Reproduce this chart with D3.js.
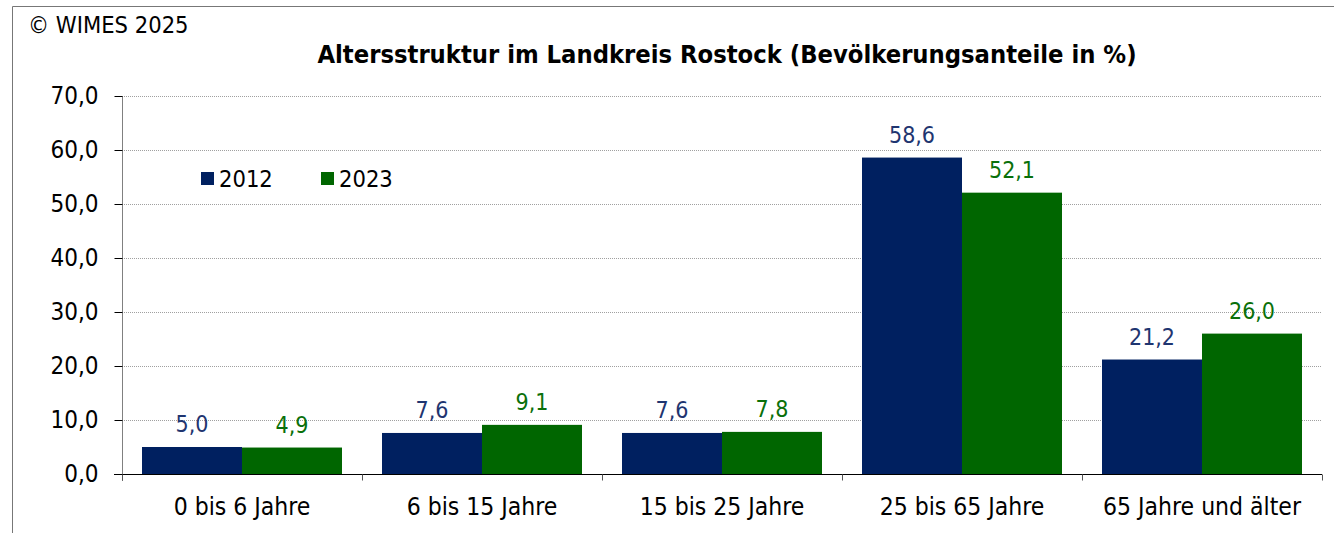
<!DOCTYPE html>
<html>
<head>
<meta charset="utf-8">
<script src="https://cdn.jsdelivr.net/npm/d3@7"></script>
<style>
  body { margin: 0; background: #fff; }
  svg { display: block; }
  text { font-family: "DejaVu Sans Condensed", "DejaVu Sans", sans-serif; font-stretch: condensed; }
</style>
</head>
<body>
<div id="chart"></div>
<script>
// data
var categories = ["0 bis 6 Jahre", "6 bis 15 Jahre", "15 bis 25 Jahre", "25 bis 65 Jahre", "65 Jahre und älter"];
var years = ["2012", "2023"];
var values2012 = [5.0, 7.6, 7.6, 58.6, 21.2];
var values2023 = [4.9, 9.1, 7.8, 52.1, 26.0];
var yTicks = [0, 10, 20, 30, 40, 50, 60, 70];

var colors = { "2012": "#002060", "2023": "#006600" };
var labelColors = { "2012": "#1f3570", "2023": "#0a700a" };

var W = 1334, H = 533;
var fmt = function(v) { return d3.format(".1f")(v).replace(".", ","); };

var svg = d3.select("#chart").append("svg")
    .attr("width", W)
    .attr("height", H);

// frame
svg.append("path")
    .attr("d", "M12.5," + H + "V6.5H" + W)
    .attr("fill", "none")
    .attr("stroke", "#777")
    .attr("stroke-width", 1);

svg.append("text")
    .attr("x", 28).attr("y", 33)
    .attr("font-size", 23.5)
    .attr("fill", "#000")
    .text("© WIMES 2025");

svg.append("text")
    .attr("x", 727).attr("y", 63)
    .attr("text-anchor", "middle")
    .attr("font-size", 25.3)
    .attr("font-weight", "bold")
    .text("Altersstruktur im Landkreis Rostock (Bevölkerungsanteile in %)");

// scales
var x0 = d3.scaleBand()
    .domain(categories)
    .range([122, 1322])
    .paddingInner(0)
    .paddingOuter(0);

var x1 = d3.scaleBand()
    .domain(years)
    .range([20, x0.bandwidth() - 20]);

var y = d3.scaleLinear()
    .domain([0, 70])
    .range([474, 96]);

// gridlines
svg.append("g")
    .selectAll("line")
    .data(yTicks.filter(d => d > 0))
    .enter()
    .append("line")
    .attr("x1", 122).attr("x2", 1322)
    .attr("y1", d => Math.round(y(d)) + 0.5)
    .attr("y2", d => Math.round(y(d)) + 0.5)
    .attr("stroke", "#a0a0a0")
    .attr("stroke-width", 1)
    .attr("stroke-dasharray", "1,1");

// bars
var rows = categories.map((c, i) => ({ cat: c, vals: [
    { year: "2012", v: values2012[i] },
    { year: "2023", v: values2023[i] }
]}));

var groups = svg.append("g")
    .selectAll("g")
    .data(rows)
    .enter()
    .append("g")
    .attr("transform", d => "translate(" + x0(d.cat) + ",0)");

groups.selectAll("rect")
    .data(d => d.vals)
    .enter()
    .append("rect")
    .attr("x", d => x1(d.year))
    .attr("y", d => y(d.v))
    .attr("width", x1.bandwidth())
    .attr("height", d => y(0) - y(d.v))
    .attr("fill", d => colors[d.year]);

groups.selectAll("text")
    .data(d => d.vals)
    .enter()
    .append("text")
    .attr("x", d => x1(d.year) + x1.bandwidth() / 2)
    .attr("y", d => y(d.v) - 15)
    .attr("text-anchor", "middle")
    .attr("font-size", 23)
    .attr("fill", d => labelColors[d.year])
    .text(d => fmt(d.v));

// y axis
var yAxis = svg.append("g")
    .attr("transform", "translate(122.5,0)")
    .call(d3.axisLeft(y).tickValues(yTicks).tickFormat(fmt).tickSize(8).tickPadding(16));
yAxis.select(".domain").attr("d", "M0,96V481").attr("stroke", "#808080");
yAxis.selectAll(".tick line").attr("stroke", "#000");
yAxis.selectAll(".tick text")
    .attr("font-size", 24)
    .attr("fill", "#000");

// x axis
var xAxis = svg.append("g")
    .attr("transform", "translate(0," + (y(0) + 0.5) + ")")
    .call(d3.axisBottom(x0).tickSize(0).tickPadding(23));
xAxis.select(".domain").attr("d", "M114,0H1322").attr("stroke", "#000");
xAxis.selectAll(".tick text")
    .attr("font-size", 24.5)
    .attr("fill", "#000");
xAxis.append("g")
    .selectAll("line")
    .data(categories.concat([null]))
    .enter()
    .append("line")
    .attr("x1", (d, i) => 122.5 + i * x0.bandwidth())
    .attr("x2", (d, i) => 122.5 + i * x0.bandwidth())
    .attr("y1", 0).attr("y2", 6)
    .attr("stroke", "#555");

// legend
var legend = svg.append("g")
    .selectAll("g")
    .data(years)
    .enter()
    .append("g")
    .attr("transform", (d, i) => "translate(" + (201 + i * 120) + ",172)");
legend.append("rect")
    .attr("width", 13).attr("height", 13)
    .attr("fill", d => colors[d]);
legend.append("text")
    .attr("x", 18).attr("y", 15)
    .attr("font-size", 23.5)
    .text(d => d);
</script>
</body>
</html>
